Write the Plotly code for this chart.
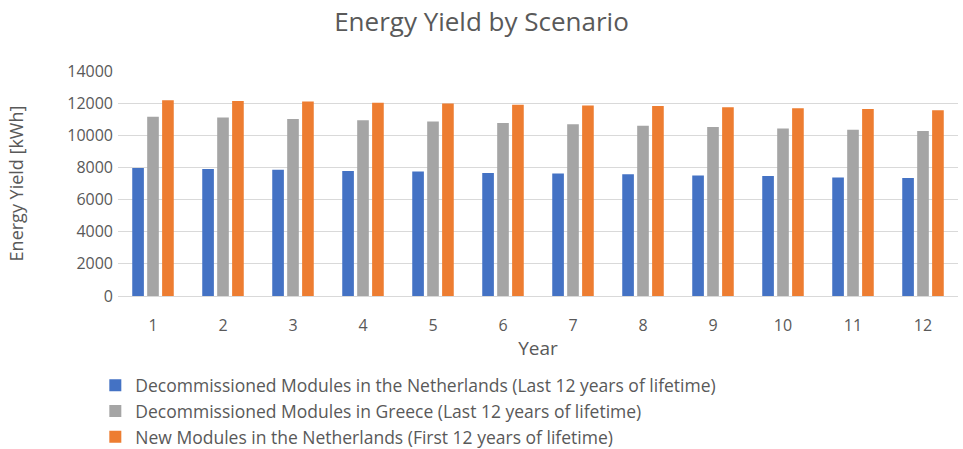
import plotly.graph_objects as go

years = [str(i) for i in range(1, 13)]
nl_decommissioned = [7960, 7900, 7860, 7780, 7740, 7660, 7620, 7580, 7500, 7460, 7380, 7340]
gr_decommissioned = [11160, 11100, 11020, 10940, 10860, 10760, 10680, 10600, 10520, 10420, 10340, 10260]
nl_new = [12180, 12140, 12100, 12020, 11980, 11900, 11860, 11820, 11740, 11680, 11640, 11560]

names = [
    'Decommissioned Modules in the Netherlands (Last 12 years of lifetime)',
    'Decommissioned Modules in Greece (Last 12 years of lifetime)',
    'New Modules in the Netherlands (First 12 years of lifetime)',
]
colors = ['#4472C4', '#A5A5A5', '#ED7D31']

fig = go.Figure()
for name, vals, col in zip(names, [nl_decommissioned, gr_decommissioned, nl_new], colors):
    fig.add_trace(go.Bar(name=name, x=years, y=vals, marker_color=col,
                         marker_line_width=0))

fig.update_layout(
    width=963, height=449,
    barmode='group', bargap=0.36, bargroupgap=0.22,
    plot_bgcolor='white', paper_bgcolor='white',
    font=dict(family='Open Sans, Liberation Sans, sans-serif', color='#595959', size=16),
    title=dict(text='Energy Yield by Scenario', x=0.5, xanchor='center',
               y=0.951, yanchor='middle', font=dict(size=26, color='#595959')),
    margin=dict(l=118, r=5, t=71, b=153, autoexpand=False),
    legend=dict(orientation='v', x=-0.027, xanchor='left', y=-0.317, yanchor='top',
                font=dict(size=17.5), itemwidth=30, tracegroupgap=0),
    showlegend=True,
)
fig.update_yaxes(range=[0, 14000], dtick=2000, tickformat='d', gridcolor='#D9D9D9', zeroline=False,
                 title=dict(text='Energy Yield [kWh]', font=dict(size=18), standoff=38),
                 tickfont=dict(size=16), ticks='', ticklabelstandoff=4, automargin=False)
fig.update_xaxes(showline=True, linecolor='#D9D9D9', automargin=False,
                 ticks='outside', ticklen=15, tickcolor='rgba(0,0,0,0)',
                 title=dict(text='Year', font=dict(size=19), standoff=6),
                 tickfont=dict(size=16))

# drop the browser's default page margin so the figure sits at the top-left corner
fig.write_html("out.html", config={'displayModeBar': False},
               post_script="document.body.style.margin='0px';")
